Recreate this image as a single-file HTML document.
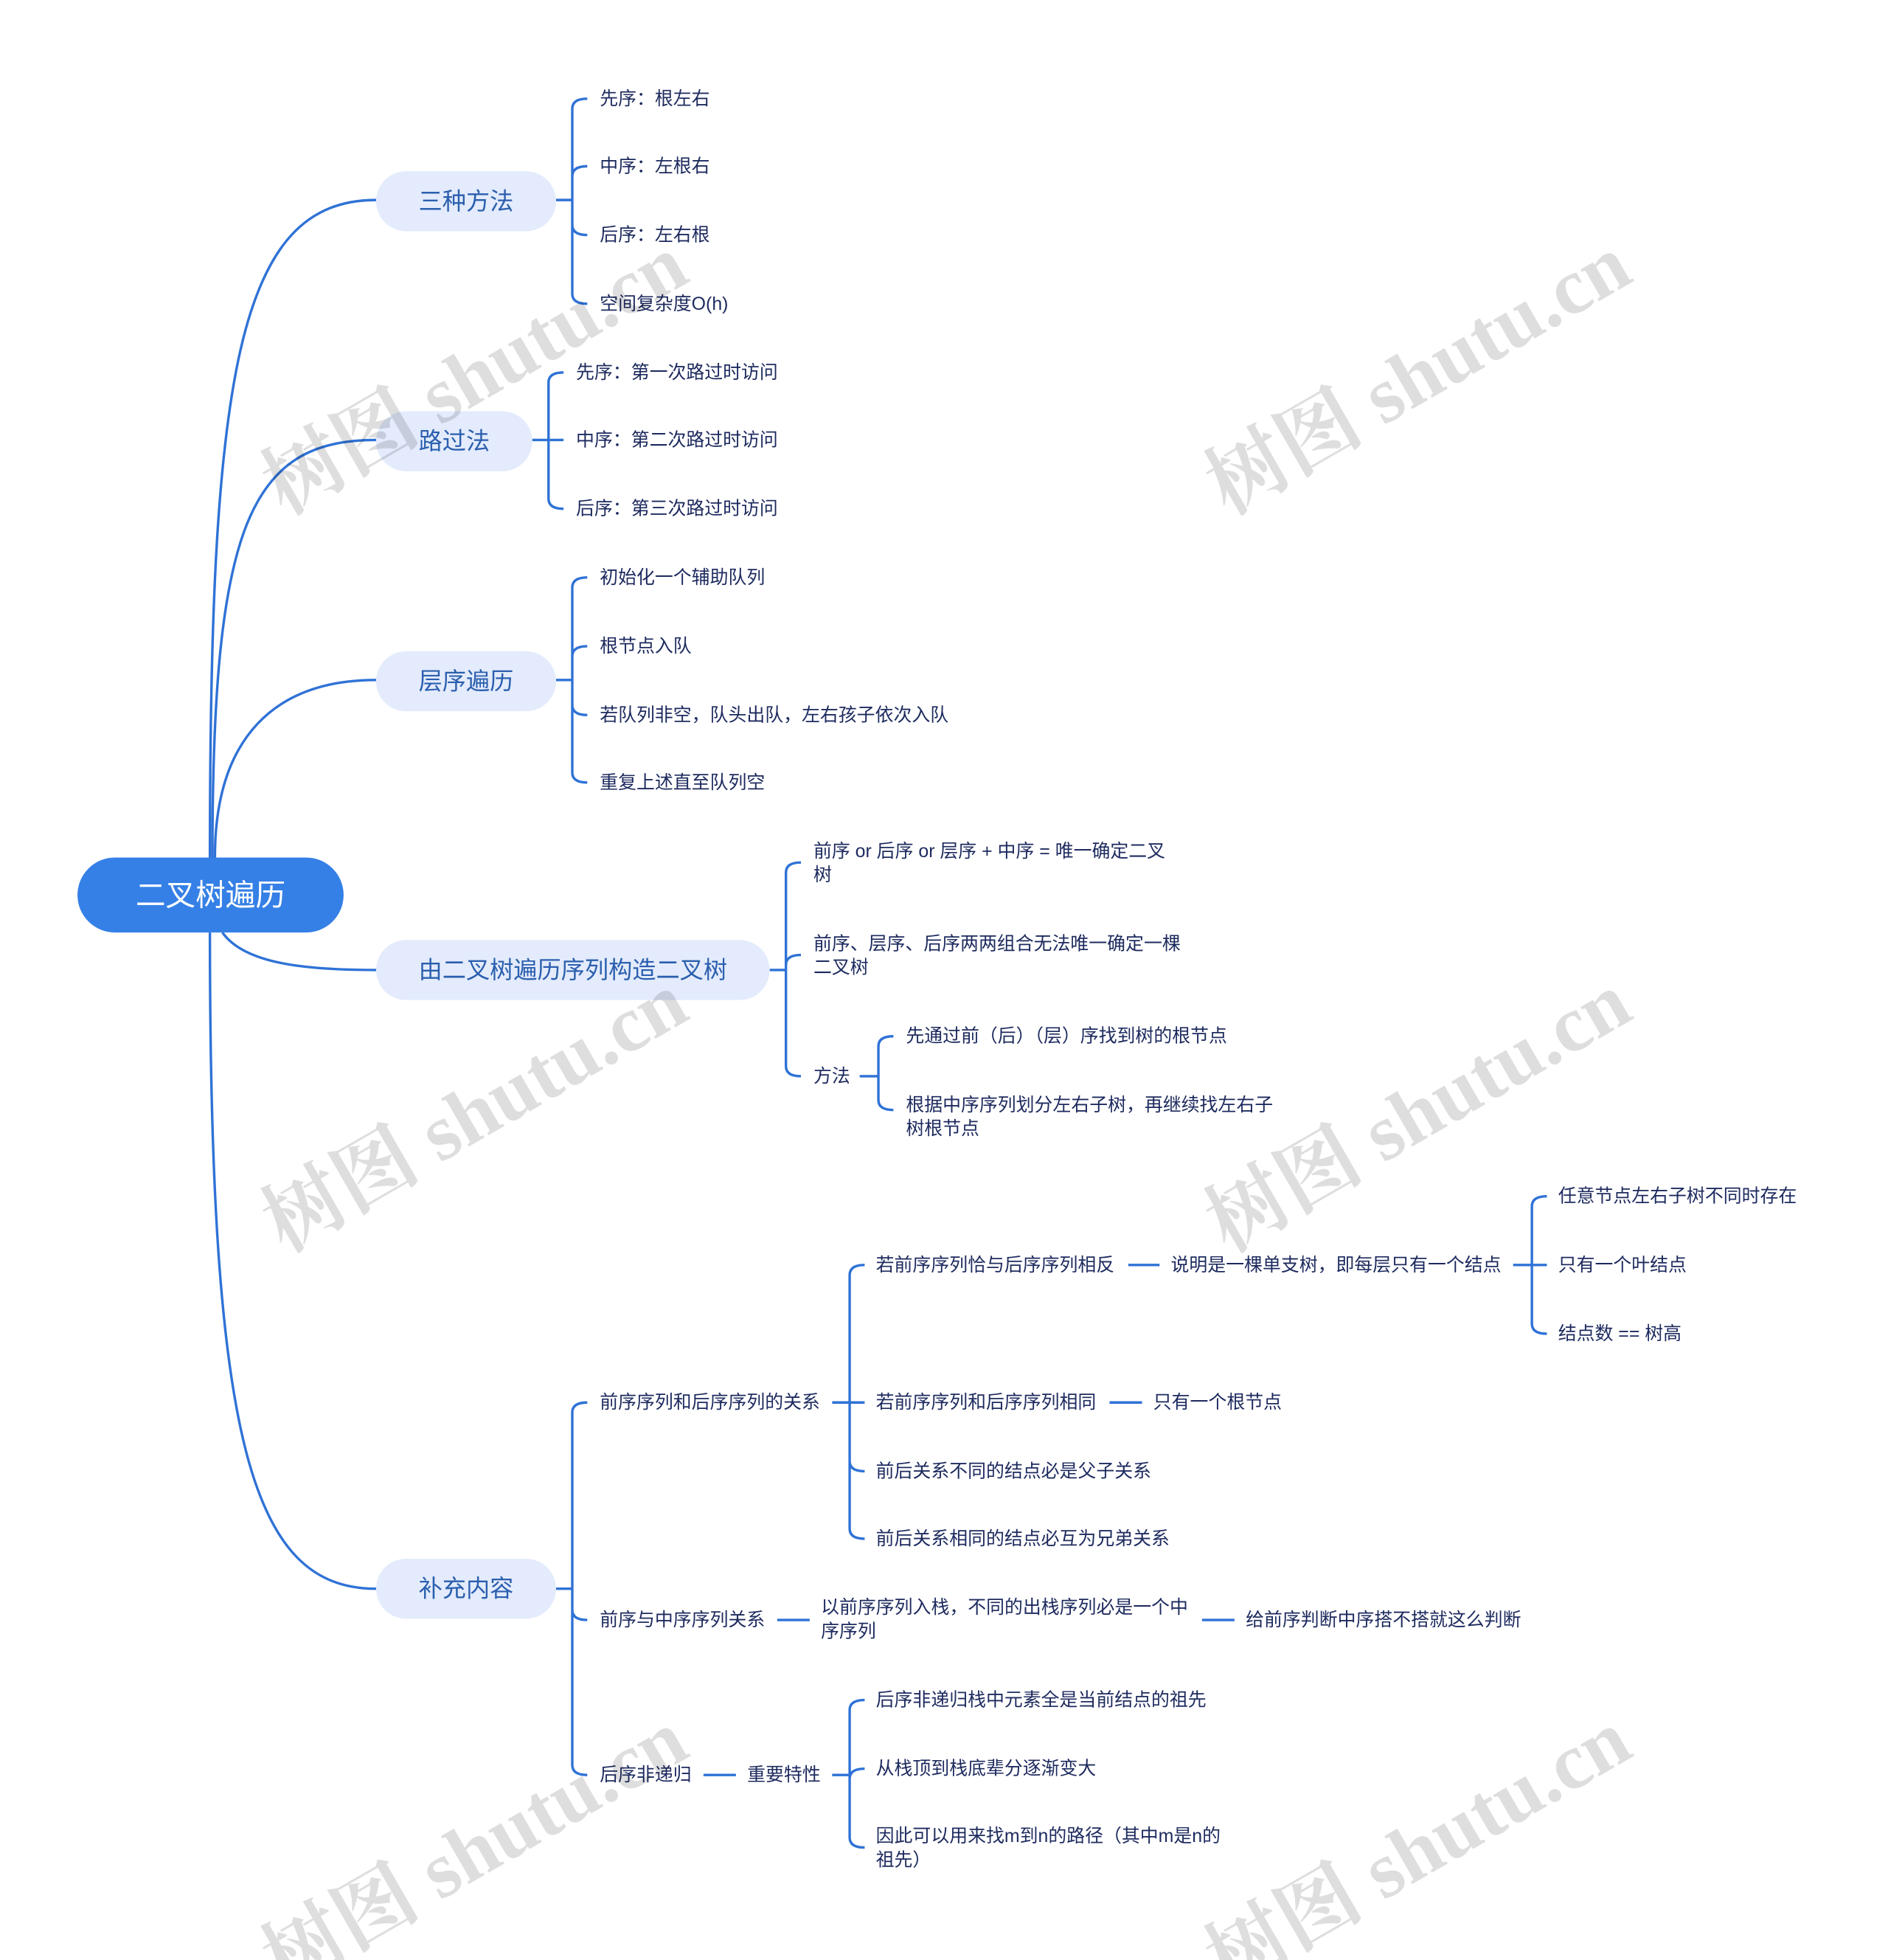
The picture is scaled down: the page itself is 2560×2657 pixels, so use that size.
<!DOCTYPE html>
<html><head><meta charset="utf-8"><style>
html,body{margin:0;padding:0;background:#fff;}
svg{display:block;}
.t{font-family:"Liberation Sans","Noto Sans CJK SC",sans-serif;font-size:14.7px;fill:#1d2a5e;dominant-baseline:central;}
.p{font-family:"Liberation Sans","Noto Sans CJK SC",sans-serif;font-size:19px;fill:#2b5fae;dominant-baseline:central;text-anchor:middle;}
.w{font-family:"Liberation Serif","Noto Serif CJK SC",serif;font-size:64px;font-weight:bold;fill:#000;fill-opacity:0.13;text-anchor:middle;dominant-baseline:central;}
path{fill:none;stroke:#2f72d6;stroke-width:2;}
</style></head><body>
<svg width="2560" height="2657" viewBox="0 0 1511 1568" preserveAspectRatio="none" xmlns="http://www.w3.org/2000/svg">
<path d="M168 686 C168 300 190 160 301 160"/>
<path d="M170 686 C170 420 200 352 301 352"/>
<path d="M172 686 C172 590 220 544 301 544"/>
<path d="M178 746 C195 770 240 776 301 776"/>
<path d="M168 746 C168 1150 200 1271 301 1271"/>

<path d="M445 160 H458 M458 160 V87 Q458 79 470 79 M458 160 V141 Q458 133 470 133 M458 160 V180 Q458 188 470 188 M458 160 V235 Q458 243 470 243"/>
<path d="M426 352 H451 M439 352 V306 Q439 298 451 298 M439 352 V399 Q439 407 451 407"/>
<path d="M445 544 H458 M458 544 V470 Q458 462 470 462 M458 544 V525 Q458 517 470 517 M458 544 V564 Q458 572 470 572 M458 544 V618 Q458 626 470 626"/>
<path d="M616 776 H629 M629 776 V698 Q629 690 641 690 M629 776 V772 Q629 764 641 764 M629 776 V853 Q629 861 641 861"/>
<path d="M688 861 H703 M703 861 V837 Q703 829 715 829 M703 861 V880 Q703 888 715 888"/>
<path d="M445 1271 H458 M458 1271 V1130 Q458 1122 470 1122 M458 1271 V1288 Q458 1296 470 1296 M458 1271 V1412 Q458 1420 470 1420"/>
<path d="M666 1122 H692 M680 1122 V1020 Q680 1012 692 1012 M680 1122 V1169 Q680 1177 692 1177 M680 1122 V1223 Q680 1231 692 1231"/>
<path d="M903 1012 H928 M1211 1012 H1238 M1226 1012 V965 Q1226 957 1238 957 M1226 1012 V1059 Q1226 1067 1238 1067"/>
<path d="M888 1122 H914"/>
<path d="M622 1296 H648 M962 1296 H988"/>
<path d="M563 1420 H589 M666 1420 H680 M680 1420 V1368 Q680 1360 692 1360 M680 1420 V1423 Q680 1415 692 1415 M680 1420 V1470 Q680 1478 692 1478"/>

<rect x="62" y="686" width="213" height="60" rx="30" fill="#3580e6"/>
<text x="168.5" y="716" class="p" style="font-size:24px;fill:#fff">二叉树遍历</text>
<rect x="301" y="137" width="144" height="48" rx="24" fill="#e3ebfc"/><text x="373" y="161" class="p">三种方法</text>
<rect x="301" y="329" width="125" height="48" rx="24" fill="#e3ebfc"/><text x="363.5" y="353" class="p">路过法</text>
<rect x="301" y="521" width="144" height="48" rx="24" fill="#e3ebfc"/><text x="373" y="545" class="p">层序遍历</text>
<rect x="301" y="752" width="315" height="48" rx="24" fill="#e3ebfc"/><text x="458.5" y="776" class="p">由二叉树遍历序列构造二叉树</text>
<rect x="301" y="1247" width="144" height="48" rx="24" fill="#e3ebfc"/><text x="373" y="1271" class="p">补充内容</text>

<text class="t" x="480" y="79">先序：根左右</text>
<text class="t" x="480" y="133">中序：左根右</text>
<text class="t" x="480" y="188">后序：左右根</text>
<text class="t" x="480" y="243">空间复杂度O(h)</text>
<text class="t" x="461" y="298">先序：第一次路过时访问</text>
<text class="t" x="461" y="352">中序：第二次路过时访问</text>
<text class="t" x="461" y="407">后序：第三次路过时访问</text>
<text class="t" x="480" y="462">初始化一个辅助队列</text>
<text class="t" x="480" y="517">根节点入队</text>
<text class="t" x="480" y="572">若队列非空，队头出队，左右孩子依次入队</text>
<text class="t" x="480" y="626">重复上述直至队列空</text>
<text class="t" x="651" y="681">前序 or 后序 or 层序 + 中序 = 唯一确定二叉</text>
<text class="t" x="651" y="700">树</text>
<text class="t" x="651" y="755">前序、层序、后序两两组合无法唯一确定一棵</text>
<text class="t" x="651" y="774">二叉树</text>
<text class="t" x="651" y="861">方法</text>
<text class="t" x="725" y="829">先通过前（后）（层）序找到树的根节点</text>
<text class="t" x="725" y="884">根据中序序列划分左右子树，再继续找左右子</text>
<text class="t" x="725" y="903">树根节点</text>
<text class="t" x="480" y="1122">前序序列和后序序列的关系</text>
<text class="t" x="480" y="1296">前序与中序序列关系</text>
<text class="t" x="480" y="1420">后序非递归</text>
<text class="t" x="701" y="1012">若前序序列恰与后序序列相反</text>
<text class="t" x="937" y="1012">说明是一棵单支树，即每层只有一个结点</text>
<text class="t" x="1247" y="957">任意节点左右子树不同时存在</text>
<text class="t" x="1247" y="1012">只有一个叶结点</text>
<text class="t" x="1247" y="1067">结点数 == 树高</text>
<text class="t" x="701" y="1122">若前序序列和后序序列相同</text>
<text class="t" x="923" y="1122">只有一个根节点</text>
<text class="t" x="701" y="1177">前后关系不同的结点必是父子关系</text>
<text class="t" x="701" y="1231">前后关系相同的结点必互为兄弟关系</text>
<text class="t" x="657" y="1286">以前序序列入栈，不同的出栈序列必是一个中</text>
<text class="t" x="657" y="1305">序序列</text>
<text class="t" x="997" y="1296">给前序判断中序搭不搭就这么判断</text>
<text class="t" x="598" y="1420">重要特性</text>
<text class="t" x="701" y="1360">后序非递归栈中元素全是当前结点的祖先</text>
<text class="t" x="701" y="1415">从栈顶到栈底辈分逐渐变大</text>
<text class="t" x="701" y="1469">因此可以用来找m到n的路径（其中m是n的</text>
<text class="t" x="701" y="1488">祖先）</text>

<text class="w" transform="translate(380,300) rotate(-30)">树图 shutu.cn</text>
<text class="w" transform="translate(1135,300) rotate(-30)">树图 shutu.cn</text>
<text class="w" transform="translate(380,890) rotate(-30)">树图 shutu.cn</text>
<text class="w" transform="translate(1135,890) rotate(-30)">树图 shutu.cn</text>
<text class="w" transform="translate(380,1480) rotate(-30)">树图 shutu.cn</text>
<text class="w" transform="translate(1135,1480) rotate(-30)">树图 shutu.cn</text>
</svg>
</body></html>
